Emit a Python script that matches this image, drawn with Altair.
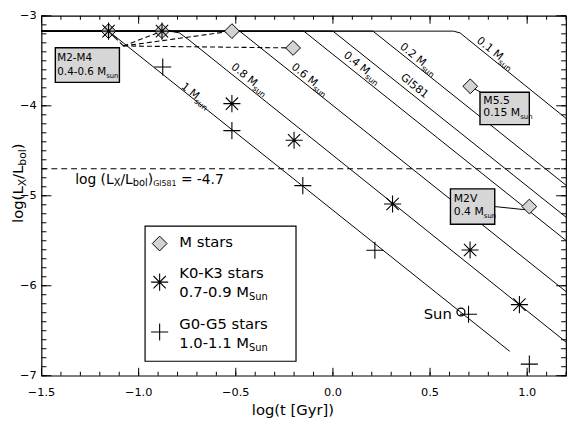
import altair as alt
import pandas as pd

FONT = "DejaVu Sans"
W, H = 532, 365

# ---------------- axis ticks ----------------
x_tick_labels = [-1.5, -1.0, -0.5, 0.0, 0.5, 1.0]
y_tick_labels = [-7, -6, -5, -4, -3]
x_minor_ticks = [round(-1.5 + 0.1 * i, 1) for i in range(28)]
y_minor_ticks = [round(-7.0 + 0.1 * i, 1) for i in range(41)]

# ---------------- stars ----------------
m_logt = [-1.155, -0.88, -0.52, -0.205, 0.707, 1.011]
m_logr = [-3.17, -3.17, -3.17, -3.357, -3.783, -5.120]
k_logt = [-1.155, -0.88, -0.52, -0.20, 0.307, 0.706, 0.96]
k_logr = [-3.17, -3.17, -3.976, -4.383, -5.091, -5.603, -6.21]
g_logt = [-0.876, -0.52, -0.155, 0.216, 0.698, 1.011]
g_logr = [-3.568, -4.276, -4.887, -5.606, -6.317, -6.871]
sun_logt = [0.659]
sun_logr = [-6.292]

# ---------------- evolution tracks ----------------
track_names = ["1", "0.8", "0.6", "0.4", "Gl581", "0.2", "0.1"]
track_logt = [
    [-1.5, -1.155, 0.91],
    [-1.5, -0.84, -0.79, -0.74, 1.2],
    [-1.5, -0.48, 1.2],
    [-1.5, -0.15, 1.2],
    [-1.5, 0.0, 1.2],
    [-1.5, 0.206, 1.2],
    [-1.5, 0.62, 0.655, 0.68, 1.2],
]
track_logr = [
    [-3.17, -3.17, -6.729],
    [-3.17, -3.17, -3.19, -3.27, -6.626],
    [-3.17, -3.17, -6.065],
    [-3.17, -3.17, -5.497],
    [-3.17, -3.17, -5.238],
    [-3.17, -3.17, -4.883],
    [-3.17, -3.17, -3.19, -3.235, -4.140],
]
gl581_level = -4.7

# M2-M4 leader hub
hub_logt, hub_logr = -1.079, -3.335

XS = alt.Scale(domain=[-1.5, 1.2], nice=False, zero=False)
YS = alt.Scale(domain=[-7, -3], nice=False, zero=False)


def X(f):
    return alt.X(f, type="quantitative", scale=XS, axis=None)


def Y(f):
    return alt.Y(f, type="quantitative", scale=YS, axis=None)


ADV = {" ": .318, "(": .390, ")": .390, "-": .361, ".": .318, "/": .337, "=": .838,
       "[": .390, "]": .390, "G": .775, "K": .656, "L": .557, "M": .863, "S": .635,
       "V": .684, "X": .686, "a": .613, "b": .635, "g": .635, "l": .278, "n": .634,
       "o": .612, "r": .411, "s": .521, "t": .392, "u": .634, "y": .592}
for d in "0123456789":
    ADV[d] = .636


def tw(s, size):
    return sum(ADV.get(c, .6) for c in s) * size


def pieces(x, y, parts, angle=0, center=False, pixel=False):
    total = sum(tw(t, s) for t, s, _ in parts)
    off = -total / 2 if center else 0
    out = []
    for t, s, dy in parts:
        lead = len(t) - len(t.lstrip(" "))
        shown = t.lstrip(" ")
        off_here = off + tw(" " * lead, s)
        df = pd.DataFrame({"x": [x], "y": [y], "t": [shown]})
        kw = dict(font=FONT, fontSize=s, align="left", baseline="middle",
                  dx=off_here, dy=dy, color="black")
        if angle:
            kw["angle"] = angle
        mk = alt.Chart(df).mark_text(**kw)
        if pixel:
            out.append(mk.encode(x=alt.value(x), y=alt.value(y), text="t:N"))
        else:
            out.append(mk.encode(x=X("x"), y=Y("y"), text="t:N"))
        off += tw(t, s)
    return out


layers = []

# tracks
rows = []
for name, ts, rs in zip(track_names, track_logt, track_logr):
    for i, (t, r) in enumerate(zip(ts, rs)):
        rows.append({"track": name, "i": i, "logt": t, "logr": r})
tracks = pd.DataFrame(rows)
layers.append(
    alt.Chart(tracks).mark_line(color="black", strokeWidth=1).encode(
        x=X("logt"), y=Y("logr"), detail="track:N", order="i:Q")
)

# ticks (inward, all four sides)
xt_major = pd.DataFrame({"v": x_tick_labels})
xt_minor = pd.DataFrame({"v": x_minor_ticks})
yt_major = pd.DataFrame({"v": y_tick_labels})
yt_minor = pd.DataFrame({"v": y_minor_ticks})
for df, ln in ((xt_major, 8), (xt_minor, 4)):
    layers.append(alt.Chart(df).mark_rule(color="black", strokeWidth=1).encode(
        x=X("v"), y=alt.value(H), y2=alt.value(H - ln)))
    layers.append(alt.Chart(df).mark_rule(color="black", strokeWidth=1).encode(
        x=X("v"), y=alt.value(0), y2=alt.value(ln)))
for df, ln in ((yt_major, 10), (yt_minor, 5)):
    layers.append(alt.Chart(df).mark_rule(color="black", strokeWidth=1).encode(
        y=Y("v"), x=alt.value(0), x2=alt.value(ln)))
    layers.append(alt.Chart(df).mark_rule(color="black", strokeWidth=1).encode(
        y=Y("v"), x=alt.value(W), x2=alt.value(W - ln)))

# tick labels (drawn as text)
xlab = pd.DataFrame({"v": x_tick_labels,
                     "t": [f"{v:.1f}".replace("-", "\u2212") for v in x_tick_labels]})
layers.append(alt.Chart(xlab).mark_text(font=FONT, fontSize=11.5, align="center",
                                        baseline="middle", color="black").encode(
    x=X("v"), y=alt.value(H + 18), text="t:N"))
ylab = pd.DataFrame({"v": y_tick_labels,
                     "t": [f"{v:d}".replace("-", "\u2212") for v in y_tick_labels]})
layers.append(alt.Chart(ylab).mark_text(font=FONT, fontSize=11.5, align="right",
                                        baseline="middle", color="black").encode(
    y=Y("v"), x=alt.value(-5), text="t:N"))

# axis titles
layers.append(alt.Chart(pd.DataFrame({"t": ["log(t [Gyr])"]})).mark_text(
    font=FONT, fontSize=15, align="center", baseline="middle", color="black").encode(
    x=alt.value(255), y=alt.value(H + 35), text="t:N"))
layers += pieces(-24, 210, [("log(L", 15, 0), ("X", 11, 5), ("/L", 15, 0), ("bol", 11, 5),
                            (")", 15, 0)], angle=270, pixel=True)

# Gl581 level
lvl = pd.DataFrame({"logt": [-1.5, 1.2], "logr": [gl581_level, gl581_level]})
layers.append(alt.Chart(lvl).mark_line(color="black", strokeWidth=1.1, strokeDash=[6, 4]).encode(
    x=X("logt"), y=Y("logr")))

# leader dashed lines from M2-M4 box
lead_rows = []
for j in range(4):
    lead_rows.append({"k": j, "i": 0, "logt": hub_logt, "logr": hub_logr})
    lead_rows.append({"k": j, "i": 1, "logt": m_logt[j], "logr": m_logr[j]})
leads = pd.DataFrame(lead_rows)
layers.append(alt.Chart(leads).mark_line(color="black", strokeWidth=1.1, strokeDash=[5, 3]).encode(
    x=X("logt"), y=Y("logr"), detail="k:N", order="i:Q"))

# connectors for M5.5 and M2V boxes
conn = pd.DataFrame({"k": [0, 0, 1, 1], "i": [0, 1, 0, 1],
                     "logt": [0.72, 0.765, 0.833, 0.99],
                     "logr": [-3.80, -3.855, -5.12, -5.155]})
layers.append(alt.Chart(conn).mark_line(color="black", strokeWidth=1).encode(
    x=X("logt"), y=Y("logr"), detail="k:N", order="i:Q"))

# annotation boxes
boxes = pd.DataFrame({"x1": [-1.429, 0.757, 0.605], "x2": [-1.099, 1.011, 0.833],
                      "y1": [-3.354, -3.850, -4.923], "y2": [-3.740, -4.209, -5.316]})
layers.append(alt.Chart(boxes).mark_rect(fill="#d6d6d6", stroke="black", strokeWidth=1.4).encode(
    x=X("x1"), x2="x2", y=Y("y1"), y2="y2"))

DIAMOND = "diamond"
ASTER = "M-1,0L1,0M0,-1L0,1M-0.72,-0.72L0.72,0.72M-0.72,0.72L0.72,-0.72"
PLUS = "M-1,0L1,0M0,-1L0,1"

mdf = pd.DataFrame({"logt": m_logt, "logr": m_logr})
kdf = pd.DataFrame({"logt": k_logt, "logr": k_logr})
gdf = pd.DataFrame({"logt": g_logt, "logr": g_logr})
sdf = pd.DataFrame({"logt": sun_logt, "logr": sun_logr})

layers.append(alt.Chart(mdf).mark_point(shape=DIAMOND, size=225, filled=True, fill="#d3d3d3",
                                        stroke="black", strokeWidth=1, opacity=1).encode(
    x=X("logt"), y=Y("logr")))
layers.append(alt.Chart(kdf).mark_point(shape=ASTER, size=300, stroke="black", strokeWidth=1.1,
                                        opacity=1).encode(x=X("logt"), y=Y("logr")))
layers.append(alt.Chart(gdf).mark_point(shape=PLUS, size=300, stroke="black", strokeWidth=1.1,
                                        opacity=1).encode(x=X("logt"), y=Y("logr")))
layers.append(alt.Chart(sdf).mark_point(shape="circle", size=64, stroke="black", strokeWidth=1.3,
                                        opacity=1).encode(x=X("logt"), y=Y("logr")))

# track labels
ANG = 39
track_label_pos = [(-0.708, -3.890, "1 M"), (-0.429, -3.708, "0.8 M"), (-0.119, -3.708, "0.6 M"),
                   (0.150, -3.579, "0.4 M"), (0.439, -3.483, "0.2 M"), (0.835, -3.418, "0.1 M")]
for x, y, t in track_label_pos:
    layers += pieces(x, y, [(t, 11, 0), ("sun", 8, 4)], angle=ANG, center=True)
layers += pieces(0.419, -3.783, [("Gl581", 11, 0)], angle=ANG, center=True)

# box texts
layers += pieces(-1.419, -3.466, [("M2-M4", 10.5, 0)])
layers += pieces(-1.419, -3.629, [("0.4-0.6 M", 10.5, 0), ("sun", 7, 4)])
layers += pieces(0.774, -3.944, [("M5.5", 11, 0)])
layers += pieces(0.774, -4.083, [("0.15 M", 11, 0), ("sun", 7, 4)])
layers += pieces(0.622, -5.0375, [("M2V", 11, 0)])
layers += pieces(0.622, -5.18, [("0.4 M", 11, 0), ("sun", 7, 4)])

# Gl581 level label
layers += pieces(-1.327, -4.82, [("log (L", 14, 0), ("X", 10, 4), ("/L", 14, 0), ("bol", 10, 4),
                                 (")", 14, 0), ("Gl581", 8, 5), (" = -4.7", 14, 0)])

# Sun label
sun_lab = pd.DataFrame({"x": [0.612], "y": [-6.319], "t": ["Sun"]})
layers.append(alt.Chart(sun_lab).mark_text(font=FONT, fontSize=15, align="right",
                                           baseline="middle", color="black").encode(
    x=X("x"), y=Y("y"), text="t:N"))

# legend
leg = pd.DataFrame({"x1": [-0.967], "x2": [-0.190], "y1": [-5.338], "y2": [-6.839]})
layers.append(alt.Chart(leg).mark_rect(fill="white", stroke="black", strokeWidth=1.2).encode(
    x=X("x1"), x2="x2", y=Y("y1"), y2="y2"))
leg_sym_x = -0.892
layers.append(alt.Chart(pd.DataFrame({"logt": [leg_sym_x], "logr": [-5.531]})).mark_point(
    shape=DIAMOND, size=225, filled=True, fill="#d3d3d3", stroke="black", strokeWidth=1,
    opacity=1).encode(x=X("logt"), y=Y("logr")))
layers.append(alt.Chart(pd.DataFrame({"logt": [leg_sym_x], "logr": [-5.960]})).mark_point(
    shape=ASTER, size=300, stroke="black", strokeWidth=1.1, opacity=1).encode(
    x=X("logt"), y=Y("logr")))
layers.append(alt.Chart(pd.DataFrame({"logt": [leg_sym_x], "logr": [-6.514]})).mark_point(
    shape=PLUS, size=300, stroke="black", strokeWidth=1.1, opacity=1).encode(
    x=X("logt"), y=Y("logr")))
lx = -0.791
layers += pieces(lx, -5.52, [("M stars", 15, 0)])
layers += pieces(lx, -5.863, [("K0-K3 stars", 15, 0)])
layers += pieces(lx, -6.067, [("0.7-0.9 M", 15, 0), ("Sun", 10, 5)])
layers += pieces(lx, -6.421, [("G0-G5 stars", 15, 0)])
layers += pieces(lx, -6.635, [("1.0-1.1 M", 15, 0), ("Sun", 10, 5)])

chart = alt.layer(*layers).properties(
    width=W, height=H,
    padding={"left": 34, "top": 5, "right": 3, "bottom": 44},
    autosize=alt.AutoSizeParams(type="none"),
    background="white",
).configure_view(stroke="black", strokeWidth=1.2)

chart.save("out.html", embed_options={"renderer": "svg", "actions": False})
